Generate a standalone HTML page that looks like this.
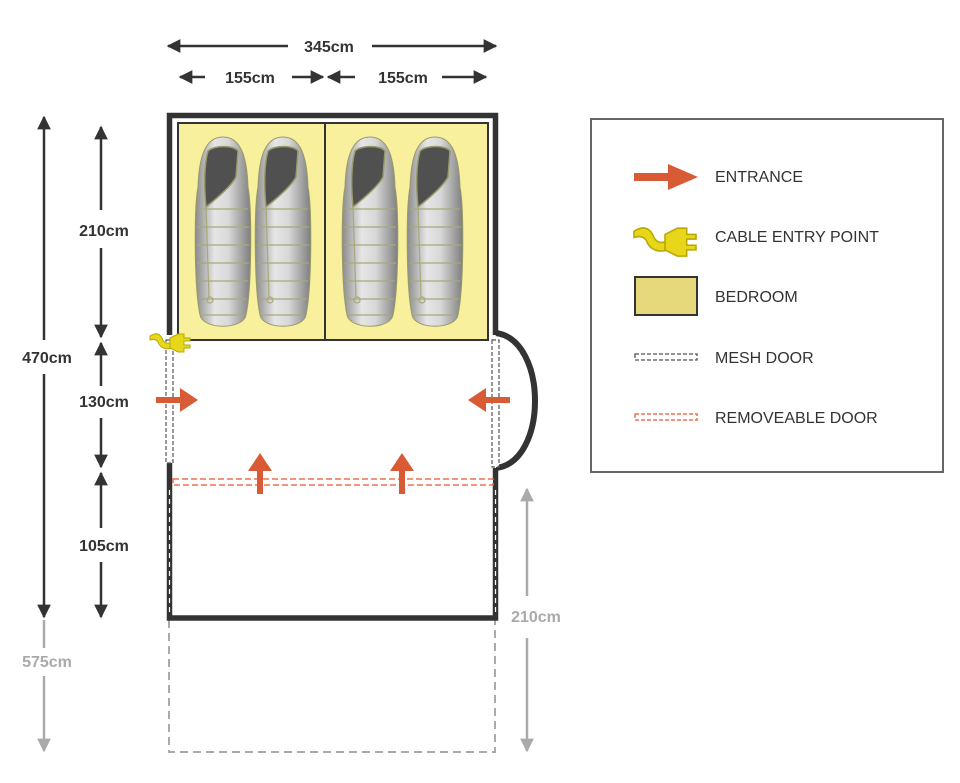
<!DOCTYPE html>
<html><head><meta charset="utf-8"><style>
html,body{margin:0;padding:0;background:#fff;}
svg{display:block;}
text{font-family:"Liberation Sans",sans-serif;}
</style></head><body>
<svg width="960" height="783" viewBox="0 0 960 783" xmlns="http://www.w3.org/2000/svg">
<defs>
<linearGradient id="bg" x1="0" x2="1" y1="0" y2="0">
<stop offset="0" stop-color="#8a8a8a"/><stop offset="0.35" stop-color="#e6e6e6"/><stop offset="0.6" stop-color="#d8d8d8"/><stop offset="1" stop-color="#7e7e7e"/>
</linearGradient>
<g id="bag">
<path d="M28,0 C11,0 4,18 3,50 C-1,70 -1,150 5,178 C8,193 48,193 51,178 C57,150 57,70 53,50 C52,18 45,0 28,0Z" fill="url(#bg)" stroke="#9a9a6a" stroke-width="1"/>
<path d="M13,14 C19,8 39,8 43,14 L41,40 C37,48 26,58 11,70 C9,50 9,28 13,14Z" fill="#505050" stroke="#9a9a6a" stroke-width="1.5"/>
<g stroke="#a8a878" stroke-width="1.2" fill="none">
<path d="M3,72 H53"/><path d="M2,90 H54"/><path d="M2,108 H54"/><path d="M2,126 H54"/><path d="M3,144 H53"/><path d="M4,162 H52"/><path d="M7,178 H49"/>
<path d="M11,70 L14,160"/><circle cx="15" cy="163" r="3"/>
</g>
</g>
<marker id="ah" viewBox="0 0 10 10" refX="9" refY="5" markerWidth="5.5" markerHeight="5.5" orient="auto-start-reverse"><path d="M0,0 L10,5 L0,10Z" fill="#333"/></marker>
<marker id="ag" viewBox="0 0 10 10" refX="9" refY="5" markerWidth="5.5" markerHeight="5.5" orient="auto-start-reverse"><path d="M0,0 L10,5 L0,10Z" fill="#aaa"/></marker>
<g id="plug">
<path d="M0,6 C6,2 10,4 12,8 C14,14 18,14 22,12 L22,18 C16,20 10,18 8,12 C6,9 3,9 0,10Z" fill="#e8d61a" stroke="#b8a800" stroke-width="1"/>
<path d="M20,8 L28,4 L34,4 L34,8 L40,8 L40,11 L34,11 L34,15 L40,15 L40,18 L34,18 L34,22 L28,22 L20,18Z" fill="#e8d61a" stroke="#b8a800" stroke-width="1"/>
</g>
</defs>

<!-- top dims -->
<line x1="168" y1="46" x2="288" y2="46" stroke="#333" stroke-width="2.5" marker-start="url(#ah)"/>
<line x1="372" y1="46" x2="496" y2="46" stroke="#333" stroke-width="2.5" marker-end="url(#ah)"/>
<text x="329" y="52" text-anchor="middle" font-size="16" font-weight="bold" fill="#333">345cm</text>
<line x1="180" y1="77" x2="205" y2="77" stroke="#333" stroke-width="2.5" marker-start="url(#ah)"/>
<line x1="292" y1="77" x2="323" y2="77" stroke="#333" stroke-width="2.5" marker-end="url(#ah)"/>
<text x="250" y="83" text-anchor="middle" font-size="16" font-weight="bold" fill="#333">155cm</text>
<line x1="328" y1="77" x2="355" y2="77" stroke="#333" stroke-width="2.5" marker-start="url(#ah)"/>
<line x1="442" y1="77" x2="486" y2="77" stroke="#333" stroke-width="2.5" marker-end="url(#ah)"/>
<text x="403" y="83" text-anchor="middle" font-size="16" font-weight="bold" fill="#333">155cm</text>

<!-- left dims -->
<line x1="44" y1="117" x2="44" y2="340" stroke="#333" stroke-width="2.5" marker-start="url(#ah)"/>
<line x1="44" y1="374" x2="44" y2="617" stroke="#333" stroke-width="2.5" marker-end="url(#ah)"/>
<text x="47" y="363" text-anchor="middle" font-size="16" font-weight="bold" fill="#333">470cm</text>
<line x1="44" y1="620" x2="44" y2="648" stroke="#aaa" stroke-width="2.5"/>
<line x1="44" y1="676" x2="44" y2="751" stroke="#aaa" stroke-width="2.5" marker-end="url(#ag)"/>
<text x="47" y="667" text-anchor="middle" font-size="16" font-weight="bold" fill="#aaa">575cm</text>
<line x1="101" y1="127" x2="101" y2="210" stroke="#333" stroke-width="2.5" marker-start="url(#ah)"/>
<line x1="101" y1="248" x2="101" y2="337" stroke="#333" stroke-width="2.5" marker-end="url(#ah)"/>
<text x="104" y="236" text-anchor="middle" font-size="16" font-weight="bold" fill="#333">210cm</text>
<line x1="101" y1="343" x2="101" y2="386" stroke="#333" stroke-width="2.5" marker-start="url(#ah)"/>
<line x1="101" y1="418" x2="101" y2="467" stroke="#333" stroke-width="2.5" marker-end="url(#ah)"/>
<text x="104" y="407" text-anchor="middle" font-size="16" font-weight="bold" fill="#333">130cm</text>
<line x1="101" y1="473" x2="101" y2="528" stroke="#333" stroke-width="2.5" marker-start="url(#ah)"/>
<line x1="101" y1="562" x2="101" y2="617" stroke="#333" stroke-width="2.5" marker-end="url(#ah)"/>
<text x="104" y="551" text-anchor="middle" font-size="16" font-weight="bold" fill="#333">105cm</text>
<!-- right gray dim -->
<line x1="527" y1="489" x2="527" y2="596" stroke="#aaa" stroke-width="2.5" marker-start="url(#ag)"/>
<line x1="527" y1="638" x2="527" y2="751" stroke="#aaa" stroke-width="2.5" marker-end="url(#ag)"/>
<text x="536" y="622" text-anchor="middle" font-size="16" font-weight="bold" fill="#aaa">210cm</text>

<!-- gray dashed extension -->
<rect x="169" y="618" width="326" height="134" fill="none" stroke="#aaa" stroke-width="2" stroke-dasharray="8,5"/>

<!-- bedroom -->
<rect x="178" y="123" width="310" height="217" fill="#f8f09c" stroke="#333" stroke-width="2"/>
<line x1="325" y1="123" x2="325" y2="340" stroke="#333" stroke-width="2"/>
<use href="#bag" x="195" y="137"/>
<use href="#bag" x="255" y="137"/>
<use href="#bag" x="342" y="137"/>
<use href="#bag" x="407" y="137"/>

<!-- outer walls -->
<path d="M169.5,335 V115.5 H495.5 V335" fill="none" stroke="#333" stroke-width="5.5"/>
<path d="M496,333 C548,340 548,462 496,468" fill="none" stroke="#333" stroke-width="6"/>
<path d="M169.5,463 V618 H495.5 V468" fill="none" stroke="#333" stroke-width="5.5"/>
<line x1="169.5" y1="490" x2="169.5" y2="615" stroke="#fff" stroke-width="1.2" stroke-dasharray="5,4"/>
<line x1="495.5" y1="490" x2="495.5" y2="615" stroke="#fff" stroke-width="1.2" stroke-dasharray="5,4"/>
<!-- mesh doors -->
<rect x="166" y="340" width="7" height="123" fill="#fff" stroke="#555" stroke-width="1.2" stroke-dasharray="4,2"/>
<rect x="492" y="340" width="7" height="127" fill="#fff" stroke="#555" stroke-width="1.2" stroke-dasharray="4,2"/>
<!-- removeable door -->
<rect x="173" y="479" width="320" height="6" fill="#fff" stroke="#f07050" stroke-width="1.5" stroke-dasharray="6,3"/>

<!-- cable -->
<use href="#plug" x="150" y="330"/>

<!-- arrows -->
<g fill="#d95b35">
<path d="M156,397 H180 V388 L198,400 L180,412 V403 H156Z"/>
<path d="M510,397 H486 V388 L468,400 L486,412 V403 H510Z"/>
<path d="M257,494 V471 H248 L260,453 L272,471 H263 V494Z"/>
<path d="M399,494 V471 H390 L402,453 L414,471 H405 V494Z"/>
</g>

<!-- legend -->
<rect x="591" y="119" width="352" height="353" fill="#fff" stroke="#666" stroke-width="2"/>
<path d="M634,173 H668 V164 L698,177 L668,190 V181 H634Z" fill="#d95b35"/>
<text x="715" y="182" font-size="16" fill="#333">ENTRANCE</text>
<g transform="translate(634,222) scale(1.55)"><use href="#plug"/></g>
<text x="715" y="242" font-size="16" fill="#333">CABLE ENTRY POINT</text>
<rect x="635" y="277" width="62" height="38" fill="#e6d97c" stroke="#333" stroke-width="2"/>
<text x="715" y="302" font-size="16" fill="#333">BEDROOM</text>
<rect x="635" y="354" width="62" height="6" fill="#fff" stroke="#555" stroke-width="1.3" stroke-dasharray="4,2"/>
<text x="715" y="363" font-size="16" fill="#333">MESH DOOR</text>
<rect x="635" y="414" width="62" height="6" fill="#fff" stroke="#f07050" stroke-width="1.5" stroke-dasharray="4,2"/>
<text x="715" y="423" font-size="16" fill="#333">REMOVEABLE DOOR</text>
</svg>
</body></html>
